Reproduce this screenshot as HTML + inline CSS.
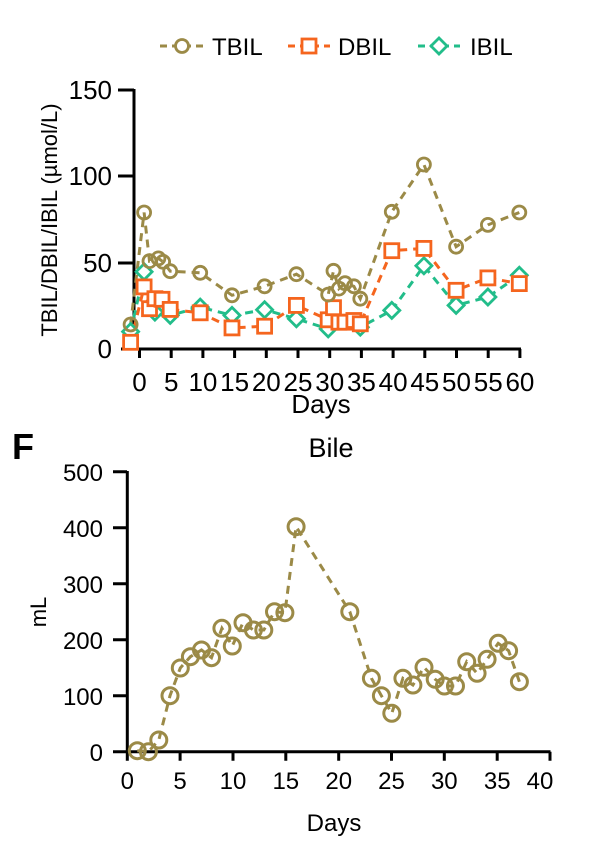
<!DOCTYPE html>
<html><head><meta charset="utf-8"><style>
html,body{margin:0;padding:0;background:#fff;}
svg{display:block;font-family:"Liberation Sans",Arial,sans-serif;}
</style></head><body>
<svg width="600" height="849" viewBox="0 0 600 849" xmlns="http://www.w3.org/2000/svg">
<!-- Legend -->
<g stroke-width="3" fill="none" stroke-dasharray="7,5">
<line x1="160" y1="46" x2="204" y2="46" stroke="#9b8a47"/>
<line x1="288" y1="46" x2="330" y2="46" stroke="#f5651e"/>
<line x1="418" y1="46" x2="460" y2="46" stroke="#22bd8a"/>
</g>
<circle cx="182" cy="46" r="6.5" fill="#fff" stroke="#9b8a47" stroke-width="2.8"/>
<rect x="302" y="39" width="14" height="14" fill="#fff" stroke="#f5651e" stroke-width="2.8"/>
<polygon points="439,38 447,46 439,54 431,46" fill="#fff" stroke="#22bd8a" stroke-width="2.8"/>
<g font-size="24" fill="#000">
<text x="212" y="55">TBIL</text><text x="338" y="55">DBIL</text><text x="470" y="55">IBIL</text>
</g>

<!-- Top axes -->
<g stroke="#000" stroke-width="3" fill="none">
<line x1="134" y1="89" x2="134" y2="350"/>
<line x1="121" y1="349" x2="521" y2="349"/>
<line x1="118" y1="90" x2="134" y2="90"/>
<line x1="118" y1="176" x2="134" y2="176"/>
<line x1="118" y1="263" x2="134" y2="263"/>
<path d="M139.5 349v9M171.2 349v9M202.9 349v9M234.6 349v9M266.3 349v9M298 349v9M329.7 349v9M361.4 349v9M393.1 349v9M424.8 349v9M456.5 349v9M488.2 349v9M519.9 349v9"/>
</g>
<g font-size="26" text-anchor="end" fill="#000">
<text x="112" y="99">150</text><text x="112" y="185">100</text><text x="112" y="272">50</text><text x="112" y="358">0</text>
</g>
<g font-size="26" text-anchor="middle" fill="#000">
<text x="139.5" y="391">0</text><text x="171.2" y="391">5</text><text x="202.9" y="391">10</text><text x="234.6" y="391">15</text><text x="266.3" y="391">20</text><text x="298" y="391">25</text><text x="329.7" y="391">30</text><text x="361.4" y="391">35</text><text x="393.1" y="391">40</text><text x="424.8" y="391">45</text><text x="456.5" y="391">50</text><text x="488.2" y="391">55</text><text x="519.9" y="391">60</text>
<text x="321" y="413">Days</text>
</g>
<text transform="translate(57,220) rotate(-90)" font-size="22" text-anchor="middle">TBIL/DBIL/IBIL (µmol/L)</text>

<!-- Top series -->
<g fill="none" stroke-width="3" stroke-dasharray="8,6">
<polyline stroke="#22bd8a" points="130.6,331.6 144.1,271.8 154.9,312.1 170.2,315.4 200.2,307.1 232,315.4 264.6,309.7 296.4,318.8 328.2,328.9 360.3,327.2 391.8,310.4 423.9,265.8 456.1,305.4 487.9,297 519.3,275.2"/>
<polyline stroke="#f5651e" points="130.6,342.3 144.1,286.9 149.5,308.7 154.9,298.7 162,299.3 170.2,309.4 200.2,312.8 232,327.9 264.6,326.2 296.4,305.4 328.2,319.8 333.5,307.7 338.9,322.2 345,322.2 353.9,320.5 360.3,323.8 391.8,250.7 423.9,248.4 456.1,290.3 487.9,277.9 519.3,283.6"/>
<polyline stroke="#9b8a47" points="130.6,324.5 144.1,212.5 149.5,261.1 158.4,258.4 163.1,261.8 170.2,271.2 200.2,272.8 232,295.3 264.6,286.3 296.4,274.2 328.2,294.6 333.5,270.8 338.9,288.6 345,283.2 353.9,286.3 360.3,298.7 391.8,211.8 423.9,164.5 456.1,246.7 487.9,224.9 519.3,212.5"/>
</g>
<g fill="#fff" stroke="#22bd8a" stroke-width="2.8">
<polygon points="130.6,323.6 138.6,331.6 130.6,339.6 122.6,331.6"/><polygon points="144.1,263.8 152.1,271.8 144.1,279.8 136.1,271.8"/><polygon points="154.9,304.1 162.9,312.1 154.9,320.1 146.9,312.1"/><polygon points="170.2,307.4 178.2,315.4 170.2,323.4 162.2,315.4"/><polygon points="200.2,299.1 208.2,307.1 200.2,315.1 192.2,307.1"/><polygon points="232,307.4 240,315.4 232,323.4 224,315.4"/><polygon points="264.6,301.7 272.6,309.7 264.6,317.7 256.6,309.7"/><polygon points="296.4,310.8 304.4,318.8 296.4,326.8 288.4,318.8"/><polygon points="328.2,320.9 336.2,328.9 328.2,336.9 320.2,328.9"/><polygon points="360.3,319.2 368.3,327.2 360.3,335.2 352.3,327.2"/><polygon points="391.8,302.4 399.8,310.4 391.8,318.4 383.8,310.4"/><polygon points="423.9,257.8 431.9,265.8 423.9,273.8 415.9,265.8"/><polygon points="456.1,297.4 464.1,305.4 456.1,313.4 448.1,305.4"/><polygon points="487.9,289 495.9,297 487.9,305 479.9,297"/><polygon points="519.3,267.2 527.3,275.2 519.3,283.2 511.3,275.2"/>
</g>
<g fill="#fff" stroke="#f5651e" stroke-width="2.8">
<rect x="123.6" y="335.3" width="14" height="14"/><rect x="137.1" y="279.9" width="14" height="14"/><rect x="142.5" y="301.7" width="14" height="14"/><rect x="147.9" y="291.7" width="14" height="14"/><rect x="155" y="292.3" width="14" height="14"/><rect x="163.2" y="302.4" width="14" height="14"/><rect x="193.2" y="305.8" width="14" height="14"/><rect x="225" y="320.9" width="14" height="14"/><rect x="257.6" y="319.2" width="14" height="14"/><rect x="289.4" y="298.4" width="14" height="14"/><rect x="321.2" y="312.8" width="14" height="14"/><rect x="326.5" y="300.7" width="14" height="14"/><rect x="331.9" y="315.2" width="14" height="14"/><rect x="338" y="315.2" width="14" height="14"/><rect x="346.9" y="313.5" width="14" height="14"/><rect x="353.3" y="316.8" width="14" height="14"/><rect x="384.8" y="243.7" width="14" height="14"/><rect x="416.9" y="241.4" width="14" height="14"/><rect x="449.1" y="283.3" width="14" height="14"/><rect x="480.9" y="270.9" width="14" height="14"/><rect x="512.3" y="276.6" width="14" height="14"/>
</g>
<g fill="none" stroke="#9b8a47" stroke-width="2.8">
<circle cx="130.6" cy="324.5" r="6.5"/><circle cx="144.1" cy="212.5" r="6.5"/><circle cx="149.5" cy="261.1" r="6.5"/><circle cx="158.4" cy="258.4" r="6.5"/><circle cx="163.1" cy="261.8" r="6.5"/><circle cx="170.2" cy="271.2" r="6.5"/><circle cx="200.2" cy="272.8" r="6.5"/><circle cx="232" cy="295.3" r="6.5"/><circle cx="264.6" cy="286.3" r="6.5"/><circle cx="296.4" cy="274.2" r="6.5"/><circle cx="328.2" cy="294.6" r="6.5"/><circle cx="333.5" cy="270.8" r="6.5"/><circle cx="338.9" cy="288.6" r="6.5"/><circle cx="345" cy="283.2" r="6.5"/><circle cx="353.9" cy="286.3" r="6.5"/><circle cx="360.3" cy="298.7" r="6.5"/><circle cx="391.8" cy="211.8" r="6.5"/><circle cx="423.9" cy="164.5" r="6.5"/><circle cx="456.1" cy="246.7" r="6.5"/><circle cx="487.9" cy="224.9" r="6.5"/><circle cx="519.3" cy="212.5" r="6.5"/>
</g>

<!-- Bottom chart -->
<text x="12" y="459" font-size="36" font-weight="bold">F</text>
<text x="331" y="457" font-size="27" text-anchor="middle">Bile</text>
<g stroke="#000" stroke-width="3" fill="none">
<line x1="127.3" y1="471" x2="127.3" y2="753"/>
<line x1="113" y1="751.7" x2="550.5" y2="751.7"/>
<path d="M113 471.7h14M113 527.7h14M113 583.7h14M113 639.7h14M113 695.7h14"/>
<path d="M127.3 751.7v9M180.1 751.7v9M233 751.7v9M285.8 751.7v9M338.7 751.7v9M391.5 751.7v9M444.3 751.7v9M497.2 751.7v9M550 751.7v9"/>
</g>
<g font-size="24" text-anchor="end">
<text x="103" y="481">500</text><text x="103" y="537">400</text><text x="103" y="593">300</text><text x="103" y="649">200</text><text x="103" y="705">100</text><text x="103" y="761">0</text>
</g>
<g font-size="24" text-anchor="middle">
<text x="127.3" y="789">0</text><text x="180.1" y="789">5</text><text x="233" y="789">10</text><text x="285.8" y="789">15</text><text x="338.7" y="789">20</text><text x="391.5" y="789">25</text><text x="444.3" y="789">30</text><text x="497.2" y="789">35</text><text x="540" y="789">40</text>
<text x="334" y="831">Days</text>
</g>
<text transform="translate(46,612) rotate(-90)" font-size="22" text-anchor="middle">mL</text>
<polyline fill="none" stroke="#9b8a47" stroke-width="3" stroke-dasharray="8,6" points="137.3,750.7 148.4,751.7 158.8,740 170,695.7 180.3,668 190.4,656.7 201.5,650 211.5,657.7 221.9,628.3 232.3,646 243,622.7 253.4,630 263.8,630 274.5,611.7 284.9,612.7 296.1,526.7 349.8,611.7 371.4,678.3 381.4,695.7 391.8,713.3 402.9,678.3 412.9,685 424,667.3 435.2,679.3 444.4,686 455.5,686 466.7,661.7 477.1,673.3 487.1,659.3 498.2,643.3 508.6,650.7 519.4,681.7"/>
<g fill="none" stroke="#9b8a47" stroke-width="3">
<circle cx="137.3" cy="750.7" r="8"/><circle cx="148.4" cy="751.7" r="8"/><circle cx="158.8" cy="740" r="8"/><circle cx="170" cy="695.7" r="8"/><circle cx="180.3" cy="668" r="8"/><circle cx="190.4" cy="656.7" r="8"/><circle cx="201.5" cy="650" r="8"/><circle cx="211.5" cy="657.7" r="8"/><circle cx="221.9" cy="628.3" r="8"/><circle cx="232.3" cy="646" r="8"/><circle cx="243" cy="622.7" r="8"/><circle cx="253.4" cy="630" r="8"/><circle cx="263.8" cy="630" r="8"/><circle cx="274.5" cy="611.7" r="8"/><circle cx="284.9" cy="612.7" r="8"/><circle cx="296.1" cy="526.7" r="8"/><circle cx="349.8" cy="611.7" r="8"/><circle cx="371.4" cy="678.3" r="8"/><circle cx="381.4" cy="695.7" r="8"/><circle cx="391.8" cy="713.3" r="8"/><circle cx="402.9" cy="678.3" r="8"/><circle cx="412.9" cy="685" r="8"/><circle cx="424" cy="667.3" r="8"/><circle cx="435.2" cy="679.3" r="8"/><circle cx="444.4" cy="686" r="8"/><circle cx="455.5" cy="686" r="8"/><circle cx="466.7" cy="661.7" r="8"/><circle cx="477.1" cy="673.3" r="8"/><circle cx="487.1" cy="659.3" r="8"/><circle cx="498.2" cy="643.3" r="8"/><circle cx="508.6" cy="650.7" r="8"/><circle cx="519.4" cy="681.7" r="8"/>
</g>
</svg>
</body></html>
